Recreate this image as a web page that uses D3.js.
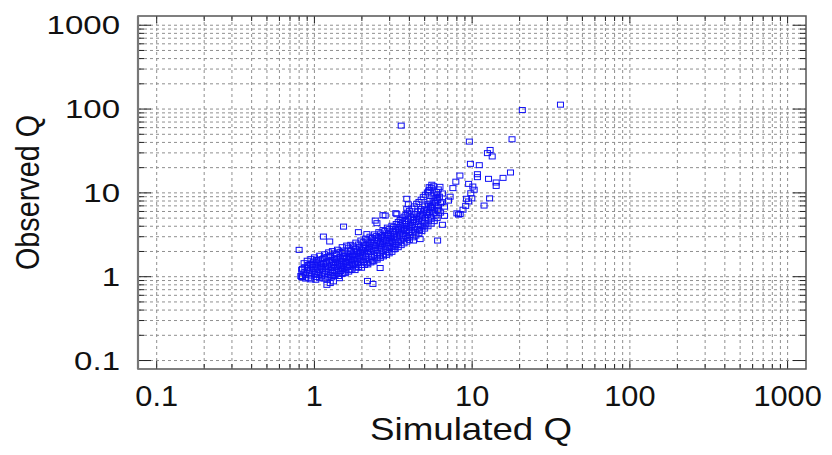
<!DOCTYPE html>
<html>
<head>
<meta charset="utf-8">
<script src="https://cdn.jsdelivr.net/npm/d3@7"></script>
<style>
  body { margin: 0; background: #fff; }
  text { font-family: "Liberation Sans", Arial, sans-serif; fill: #111; }
</style>
</head>
<body>
<div id="chart"></div>
<script>
// axis labels / ticks
const xTicks = [0.1, 1, 10, 100, 1000]
const yTicks = [0.1, 1, 10, 100, 1000]
const xTitle = "Simulated Q"
const yTitle = "Observed Q"

// [simulated, observed] pairs
const bandLow = [[0.82,1.02],[0.83,1.21],[0.84,0.98],[0.86,1.12],[0.87,1.30],[0.88,1.05],[0.9,1.18],[0.91,1.38],[0.92,0.97],[0.93,1.10],
  [0.94,1.25],[0.95,1.44],[0.96,1.03],[0.97,1.16],[0.98,1.31],[0.99,1.52],[1.0,1.08],[1.01,1.22],[1.02,1.40],[1.03,0.99],
  [1.04,1.13],[1.05,1.28],[1.06,1.60],[1.07,1.05],[1.08,1.19],[1.09,1.35],[1.1,1.47],[1.11,1.01],[1.12,1.24],[1.13,1.12],
  [1.14,1.41],[1.15,1.68],[1.16,1.07],[1.17,1.30],[1.18,1.18],[1.19,1.52],[1.2,0.93],[1.21,1.36],[1.22,1.14],[1.23,1.25],
  [1.24,1.75],[1.25,1.44],[1.26,1.05],[1.27,1.20],[1.28,1.32],[1.29,1.58],[1.3,1.11],[1.31,1.27],[1.32,1.39],[1.33,1.02],
  [1.34,1.66],[1.35,1.18],[1.36,1.48],[1.37,1.30],[1.38,1.85],[1.39,1.13],[1.4,1.37],[1.41,1.56],[1.42,1.22],[1.43,1.08],
  [1.44,1.44],[1.45,1.70],[1.46,1.29],[1.47,1.17],[1.48,1.52],[1.49,1.35],[1.5,1.92],[1.51,1.25],[1.52,1.62],[1.53,1.41],
  [1.54,1.12],[1.55,1.78],[1.56,1.33],[1.57,1.50],[1.58,1.21],[1.59,1.66],[1.6,1.45]]

const bandMid = [[1.62,1.30],[1.63,1.88],[1.64,1.55],[1.66,1.72],[1.67,1.38],[1.68,1.20],[1.7,1.62],[1.71,2.02],[1.72,1.47],[1.74,1.80],
  [1.75,1.33],[1.76,1.58],[1.78,1.95],[1.79,1.42],[1.8,1.70],[1.82,2.15],[1.83,1.52],[1.84,1.28],[1.86,1.84],[1.87,1.63],
  [1.88,2.05],[1.9,1.45],[1.92,1.76],[1.93,2.25],[1.95,1.56],[1.96,1.92],[1.98,1.38],[2.0,1.70],[2.01,2.10],[2.03,1.83],
  [2.05,1.50],[2.06,2.35],[2.08,1.98],[2.1,1.64],[2.12,2.20],[2.13,1.77],[2.15,1.45],[2.17,2.05],[2.19,2.48],[2.2,1.88],
  [2.22,1.60],[2.24,2.28],[2.26,1.96],[2.28,2.62],[2.3,1.72],[2.32,2.12],[2.34,1.55],[2.36,2.40],[2.38,2.02],[2.4,1.83],
  [2.42,2.75],[2.44,2.22],[2.46,1.66],[2.48,2.50],[2.5,2.10],[2.52,1.92],[2.55,2.88],[2.57,2.34],[2.59,1.78],[2.61,2.60],
  [2.63,2.18],[2.66,3.02],[2.68,2.00],[2.7,2.45],[2.72,1.85],[2.75,2.72],[2.77,2.28],[2.8,3.15],[2.82,2.10],[2.85,2.55],
  [2.87,2.92],[2.9,2.35],[2.92,1.98],[2.95,3.30],[2.97,2.68],[3.0,2.20],[3.02,2.48],[3.05,3.05],[3.07,2.78],[3.1,2.30],
  [3.12,3.48],[3.15,2.60],[3.18,2.95],[3.2,2.12]]

const bandHigh = [[3.22,3.20],[3.25,2.72],[3.28,3.65],[3.3,2.40],[3.33,3.02],[3.36,2.85],[3.39,3.88],[3.42,2.55],[3.45,3.35],[3.48,3.10],
  [3.5,4.10],[3.53,2.68],[3.56,3.55],[3.6,2.95],[3.63,4.35],[3.66,3.25],[3.7,2.80],[3.73,3.78],[3.76,4.62],[3.8,3.05],
  [3.83,3.50],[3.86,4.05],[3.9,2.90],[3.93,4.90],[3.96,3.40],[4.0,3.85],[4.04,3.15],[4.07,4.40],[4.1,5.20],[4.14,3.62],
  [4.18,4.15],[4.21,3.30],[4.25,4.75],[4.29,5.55],[4.32,3.90],[4.36,3.45],[4.4,4.50],[4.44,5.05],[4.48,3.72],[4.52,6.00],
  [4.56,4.22],[4.6,4.85],[4.64,3.60],[4.68,5.40],[4.72,4.05],[4.76,6.40],[4.8,4.60],[4.84,5.10],[4.88,3.95],[4.92,5.80],
  [4.96,4.40],[5.0,6.90],[5.05,5.00],[5.1,4.20],[5.15,6.20],[5.2,5.45],[5.25,7.40],[5.3,4.70],[5.35,5.90],[5.4,8.00],
  [5.45,5.20],[5.5,6.60],[5.55,4.95],[5.6,7.10],[5.65,8.60],[5.7,5.70],[5.75,6.30],[5.8,9.30],[5.85,7.60],[5.9,5.40],
  [5.95,10.2],[6.0,6.90],[6.05,8.20],[6.1,11.0],[6.15,6.10],[6.2,9.00],[6.25,11.8],[6.3,7.50]]

// upper and lower fringe of the dense band, plus extra core points
const bandUpper = [[0.86,1.45],[0.9,1.55],[0.95,1.62],[1.0,1.70],[1.03,1.58],[1.08,1.78],[1.12,1.62],[1.16,1.85],[1.2,1.72],
  [1.23,1.95],[1.27,1.80],[1.3,2.02],[1.35,1.90],[1.4,2.10],[1.45,1.98],[1.5,2.25],[1.55,2.05],[1.6,2.35],[1.65,2.22],
  [1.7,2.40],[1.77,2.30],[1.83,2.55],[1.9,2.42],[1.97,2.70],[2.04,2.58],[2.11,2.85],[2.18,2.72],[2.25,3.00],[2.33,2.90],
  [2.4,3.20],[2.48,3.05],[2.56,3.40],[2.64,3.28],[2.72,3.60],[2.8,3.50],[2.9,3.85],[3.0,3.70],[3.1,4.05],[3.18,3.90],
  [3.3,4.25],[3.4,4.50],[3.5,4.75],[3.6,4.95],[3.7,5.20],[3.8,5.45],[3.9,5.80],[4.0,6.10],[4.15,6.50],[4.3,6.90],
  [4.45,7.40],[4.6,7.80],[4.75,8.30],[4.9,8.90],[5.05,9.50],[5.2,10.1],[5.35,10.8],[5.5,11.5],[5.7,12.0]]

const bandLower = [[0.88,0.95],[0.95,0.93],[1.02,0.92],[1.08,0.96],[1.15,0.95],[1.22,1.00],[1.28,0.98],[1.35,1.04],[1.42,1.02],
  [1.5,1.08],[1.57,1.10],[1.65,1.15],[1.73,1.22],[1.81,1.20],[1.9,1.30],[1.99,1.28],[2.08,1.38],[2.18,1.40],[2.28,1.48],
  [2.38,1.52],[2.5,1.60],[2.62,1.68],[2.74,1.75],[2.86,1.82],[2.98,1.90],[3.1,1.98],[3.25,2.15],[3.4,2.25],[3.55,2.38],
  [3.7,2.50],[3.85,2.62],[4.0,2.75],[4.2,2.95],[4.4,3.10],[4.6,3.30],[4.8,3.50],[5.0,3.75],[5.25,4.00],[5.5,4.30],
  [5.75,4.60],[6.0,5.00]]

const bandCore = [[0.9,1.28],[0.97,1.38],[1.04,1.48],[1.1,1.30],[1.17,1.45],[1.24,1.55],[1.31,1.50],[1.38,1.62],[1.45,1.55],
  [1.52,1.75],[1.6,1.68],[1.68,1.85],[1.76,1.78],[1.85,2.00],[1.94,1.98],[2.03,2.20],[2.12,2.38],[2.22,2.15],[2.32,2.55],
  [2.42,2.35],[2.52,2.70],[2.62,2.48],[2.73,2.95],[2.84,2.70],[2.95,3.10],[3.06,2.90],[3.17,3.25],[3.3,3.45],[3.42,3.70],
  [3.55,3.95],[3.68,3.60],[3.8,4.25],[3.95,4.55],[4.1,4.05],[4.25,5.10],[4.4,5.60],[4.55,4.65],[4.7,6.10],[4.85,5.50],
  [5.0,6.30],[5.15,5.70],[5.3,7.10],[5.45,6.80],[5.6,6.00],[5.75,7.90],[5.9,8.70],[6.05,9.60]]

const scatterLow = [[0.80,2.09],[0.83,0.99],[0.84,1.24],[1.14,3.01],[1.25,2.63],[1.53,3.96],[1.90,3.40],[2.15,3.22],[2.43,4.67],
  [2.49,4.35],[2.72,5.42],[2.81,5.36],[3.28,5.72],[3.33,5.57],[3.85,8.5],[3.94,7.3],[3.85,6.45],[1.26,0.84],[1.20,0.80],
  [1.32,0.88],[1.44,0.96],[2.17,0.89],[2.35,0.82],[2.61,1.27],[3.2,2.29],[4.25,2.70],[4.68,2.81],[6.04,2.70],[6.48,4.16]]

const scatterHigh = [[3.55,63.4],[36.3,112.8],[20.8,97.3],[9.6,40.9],[17.9,43.6],[13.0,32.5],[12.5,29.8],[13.4,27.2],
  [9.75,22.2],[11.1,21.4],[17.5,17.5],[15.7,15.1],[14.2,13.3],[14.2,12.1],[12.7,14.7],[8.36,16.1],[7.88,13.6],[10.8,16.7],
  [10.8,15.4],[7.55,11.4],[9.5,12.8],[10.1,11.9],[10.3,10.9],[6.48,9.84],[7.25,9.0],[7.08,8.09],[9.8,9.9],[9.2,8.5],
  [12.9,8.6],[11.9,7.06],[9.95,8.6],[9.5,7.9],[9.1,7.0],[8.75,6.3],[8.4,5.6],[8.0,5.7],[8.2,5.5],[6.43,7.75],[6.68,6.85],
  [6.04,6.27],[6.31,5.82],[6.68,5.32],[5.55,12.5],[5.34,11.7],[5.28,10.4],[5.99,8.6]]

const margin = {top: 16, right: 26, bottom: 86, left: 138}
const width = 832 - margin.left - margin.right
const height = 455 - margin.top - margin.bottom

const svg = d3.select("#chart")
    .append("svg")
    .attr("width", 832)
    .attr("height", 455)

const g = svg.append("g")
    .attr("transform", `translate(${margin.left},${margin.top})`)

const x = d3.scaleLog()
    .domain([Math.pow(10, -1.1185), Math.pow(10, 3.1166)])
    .range([0, width])
const y = d3.scaleLog()
    .domain([Math.pow(10, -1.101), Math.pow(10, 3.110)])
    .range([height, 0])

// every 1..9 x decade between 0.1 and 1000
const gridVals = []
for (let d = -1; d <= 2; d++) {
    for (let m = 1; m <= 9; m++) gridVals.push(+(m * Math.pow(10, d)).toPrecision(3))
}
gridVals.push(1000)
const isMajor = v => xTicks.includes(v)

// dashed grid
g.append("g").selectAll("line")
    .data(gridVals)
    .join("line")
    .attr("x1", d => x(d)).attr("x2", d => x(d))
    .attr("y1", 0).attr("y2", height)
    .attr("stroke", "#8f8f8f")
    .attr("stroke-dasharray", "3,3")
g.append("g").selectAll("line")
    .data(gridVals)
    .join("line")
    .attr("y1", d => y(d)).attr("y2", d => y(d))
    .attr("x1", 0).attr("x2", width)
    .attr("stroke", "#8f8f8f")
    .attr("stroke-dasharray", "3,3")

// inward ticks on all four sides
const tickG = g.append("g")
tickG.selectAll(".tb")
    .data(gridVals)
    .join("line")
    .attr("x1", d => x(d)).attr("x2", d => x(d))
    .attr("y1", height).attr("y2", d => height - (isMajor(d) ? 8 : 5))
tickG.selectAll(".tt")
    .data(gridVals)
    .join("line")
    .attr("x1", d => x(d)).attr("x2", d => x(d))
    .attr("y1", 0).attr("y2", d => isMajor(d) ? 7 : 5)
tickG.selectAll(".tl")
    .data(gridVals)
    .join("line")
    .attr("y1", d => y(d)).attr("y2", d => y(d))
    .attr("x1", 0).attr("x2", d => isMajor(d) ? 13 : 6)
tickG.selectAll(".tr")
    .data(gridVals)
    .join("line")
    .attr("y1", d => y(d)).attr("y2", d => y(d))
    .attr("x1", width).attr("x2", d => width - (isMajor(d) ? 13 : 6))
tickG.selectAll("line").attr("stroke", "#222").attr("stroke-width", 1)

// frame
g.append("rect")
    .attr("width", width).attr("height", height)
    .attr("fill", "none")
    .attr("stroke", "#555")
    .attr("stroke-width", 1.5)
g.append("line")
    .attr("x1", 0).attr("x2", 0).attr("y1", 0).attr("y2", height)
    .attr("stroke", "#777").attr("stroke-width", 2.2)

// tick labels
svg.append("g").selectAll("g")
    .data(xTicks)
    .join("g")
    .attr("transform", d => `translate(${margin.left + x(d)},406) scale(1.06,1)`)
    .append("text")
    .attr("text-anchor", "middle")
    .attr("font-size", 29)
    .text(d => d)
svg.append("g").selectAll("g")
    .data(yTicks)
    .join("g")
    .attr("transform", d => `translate(120,${margin.top + y(d) + 9}) scale(1.27,1)`)
    .append("text")
    .attr("text-anchor", "end")
    .attr("font-size", 26)
    .text(d => d)

// axis titles
svg.append("text")
    .attr("x", 471).attr("y", 440)
    .attr("text-anchor", "middle")
    .attr("font-size", 32)
    .attr("textLength", 202)
    .attr("lengthAdjust", "spacingAndGlyphs")
    .text(xTitle)
svg.append("text")
    .attr("transform", "translate(39,192.5) rotate(-90)")
    .attr("text-anchor", "middle")
    .attr("font-size", 33)
    .attr("textLength", 155)
    .attr("lengthAdjust", "spacingAndGlyphs")
    .text(yTitle)

// points
const allPoints = bandLow.concat(bandMid, bandHigh, bandUpper, bandLower, bandCore, scatterLow, scatterHigh)
g.append("g").selectAll("rect")
    .data(allPoints)
    .join("rect")
    .attr("x", d => x(d[0]) - 3)
    .attr("y", d => y(d[1]) - 2.5)
    .attr("width", 6)
    .attr("height", 5)
    .attr("fill", "none")
    .attr("stroke", "#1010f5")
    .attr("stroke-width", 1)
</script>
</body>
</html>
